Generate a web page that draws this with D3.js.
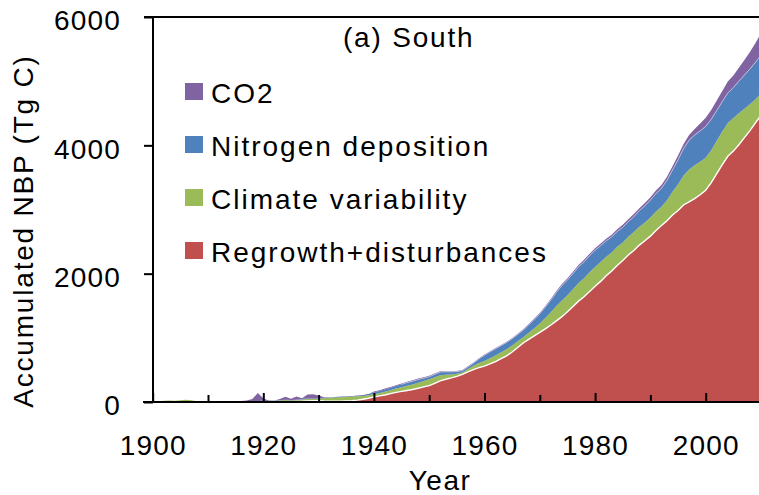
<!DOCTYPE html>
<html>
<head>
<meta charset="utf-8">
<script src="https://cdn.jsdelivr.net/npm/d3@7"></script>
<style>
  body { margin: 0; background: #fff; }
  svg text { font-family: "Liberation Sans", Arial, sans-serif; font-size: 28px; fill: #000; }
</style>
</head>
<body>
<svg id="chart" width="759" height="495"></svg>
<script>
// Accumulated net biome production (Tg C) by driver, South region, 1900-2010
const firstYear = 1900;

const regrowth = [
  0, 0, 0, 0, 0, 0, 0, 0, 0, 0,
  0, 0, 0, 0, 0, 0, 0, 0, 0, 0,
  0, 0, 0, 0, 2, 5, 8, 12, 18, 22,
  20, 15, 12, 12, 14, 18, 22, 30, 42, 58,
  80, 95, 110, 130, 150, 165, 180, 195, 215, 235,
  255, 290, 330, 355, 375, 400, 430, 470, 505, 535,
  560, 595, 630, 675, 720, 780, 850, 920, 975, 1030,
  1085, 1140, 1200, 1265, 1330, 1405, 1488, 1572, 1640, 1722,
  1805, 1880, 1968, 2040, 2128, 2205, 2290, 2360, 2445, 2512,
  2585, 2672, 2750, 2825, 2915, 2985, 3070, 3120, 3170, 3230,
  3300, 3420, 3560, 3700, 3830, 3910, 4010, 4120, 4230, 4350,
  4470
];

const climate = [
  0, 8, 18, 22, 18, 28, 34, 26, 10, 2,
  0, 0, 0, 0, 2, 0, 3, 5, 8, 12,
  15, 20, 18, 22, 28, 20, 22, 28, 27, 23,
  30, 45, 53, 58, 61, 62, 63, 60, 53, 47,
  40, 45, 50, 55, 60, 65, 72, 78, 85, 92,
  98, 95, 88, 70, 55, 40, 30, 45, 60, 72,
  80, 88, 96, 100, 104, 100, 95, 90, 105, 120,
  140, 170, 200, 230, 250, 258, 270, 284, 290, 300,
  300, 302, 295, 288, 290, 282, 285, 288, 286, 284,
  290, 296, 293, 320, 360, 410, 460, 505, 520, 515,
  505, 505, 510, 515, 518, 515, 490, 450, 410, 370,
  339
];

const nitrogen = [
  0, 0, 0, 0, 0, 0, 0, 0, 0, 0,
  0, 0, 0, 0, 0, 0, 2, 2, 3, 3,
  3, 4, 4, 5, 6, 5, 6, 7, 8, 8,
  6, 5, 5, 6, 6, 7, 8, 9, 12, 20,
  30, 30, 35, 38, 40, 45, 50, 52, 50, 45,
  42, 45, 50, 45, 40, 35, 28, 32, 40, 65,
  90, 98, 104, 104, 104, 106, 108, 110, 122, 135,
  150, 170, 190, 212, 234, 240, 245, 250, 255, 258,
  260, 255, 250, 245, 240, 236, 234, 240, 250, 262,
  272, 280, 287, 310, 340, 380, 420, 455, 470, 480,
  490, 480, 472, 468, 468, 475, 500, 525, 550, 575,
  596
];

const co2 = [
  0, 0, 0, 0, 0, 0, 0, 0, 0, 0,
  0, 0, 5, 8, 8, 10, 10, 18, 34, 125,
  42, -4, 3, 18, 44, 20, 48, 13, 62, 67,
  46, 8, 3, -2, -5, -6, -3, 2, -8, -6,
  15, 15, 15, 12, 12, 15, 15, 15, 15, 15,
  15, 15, 12, 10, 10, 10, 10, 10, 10, 10,
  10, 10, 10, 10, 12, 12, 12, 12, 14, 15,
  16, 18, 20, 22, 25, 26, 27, 28, 30, 31,
  32, 32, 33, 34, 35, 38, 40, 40, 40, 42,
  44, 47, 50, 55, 60, 65, 72, 80, 95, 115,
  135, 145, 155, 165, 178, 190, 210, 235, 265, 300,
  340
];

const seriesKeys = ["regrowth", "climate", "nitrogen", "co2"];
const seriesNames = ["Regrowth+disturbances", "Climate variability", "Nitrogen deposition", "CO2"];
const seriesColors = ["#C0504D", "#9BBB59", "#4F81BD", "#8064A2"];

const yTicks = [0, 2000, 4000, 6000];
const xMajorTicks = [1900, 1920, 1940, 1960, 1980, 2000];
const xMinorTicks = [1910, 1930, 1950, 1970, 1990];

const panelTitle = "(a) South";
const xTitle = "Year";
const yTitle = "Accumulated NBP (Tg C)";

// rows for the stack layout
const rows = regrowth.map((v, i) => ({
  year: firstYear + i,
  regrowth: v,
  climate: climate[i],
  nitrogen: nitrogen[i],
  co2: co2[i]
}));

const svg = d3.select("#chart");
const W = 759;

const x = d3.scaleLinear().domain([1900, 2010]).range([152.7, 761]);
const y = d3.scaleLinear().domain([0, 6000]).range([402, 17]);

const stacked = d3.stack().keys(seriesKeys).offset(d3.stackOffsetNone)(rows);

const area = d3.area()
  .x(d => x(d.data.year))
  .y0(d => y(d[0]))
  .y1(d => y(d[1]));

const topLine = d3.line().x(d => x(d.data.year)).y(d => y(d[1]));
const seamLine = d3.line()
  .defined(d => d.data.year >= 1945)
  .x(d => x(d.data.year)).y(d => y(d[0]));

svg.append("defs").append("clipPath").attr("id", "plotClip")
  .append("rect").attr("x", 153).attr("y", 17).attr("width", W - 153).attr("height", 385);

const plot = svg.append("g").attr("clip-path", "url(#plotClip)");

plot.selectAll("path.layer")
  .data(stacked)
  .join("path")
  .attr("class", "layer")
  .attr("fill", (d, i) => seriesColors[i])
  .attr("d", area);

// white edge along the top of the regrowth layer
plot.append("path")
  .attr("d", topLine(stacked[0]))
  .attr("fill", "none")
  .attr("stroke", "#ffffff")
  .attr("stroke-width", 1.4);

// light seam between the nitrogen and CO2 layers
plot.append("path")
  .attr("d", seamLine(stacked[3]))
  .attr("fill", "none")
  .attr("stroke", "#cfc4e2")
  .attr("stroke-width", 0.8);

// axes
const axisG = svg.append("g").attr("stroke", "#000").attr("stroke-width", 2);
axisG.append("line").attr("x1", 153).attr("x2", 153).attr("y1", y(6000) - 1).attr("y2", y(0) + 1);
axisG.append("line").attr("x1", 143).attr("x2", W).attr("y1", y(0)).attr("y2", y(0));
axisG.append("line").attr("x1", 144).attr("x2", W).attr("y1", y(6000)).attr("y2", y(6000));

const yAxis = d3.axisLeft(y).tickValues(yTicks).tickSize(9).tickPadding(23).tickFormat(d3.format("d"));
const gy = svg.append("g").attr("transform", "translate(153,0)").call(yAxis);
gy.select(".domain").remove();
gy.selectAll(".tick line").attr("stroke", "#000").attr("stroke-width", 2);
gy.selectAll(".tick text")
  .attr("dy", "0.46em")
  .attr("font-size", 28)
  .attr("font-family", "Liberation Sans, Arial, sans-serif")
  .style("letter-spacing", "1.2px");

const xAxisMajor = d3.axisBottom(x).tickValues(xMajorTicks).tickSize(-9).tickPadding(33).tickFormat(d3.format("d"));
const gx = svg.append("g").attr("transform", `translate(0,${y(0)})`).call(xAxisMajor);
gx.select(".domain").remove();
gx.selectAll(".tick line").attr("stroke", "#000").attr("stroke-width", 2);
gx.selectAll(".tick text")
  .attr("font-size", 28)
  .attr("font-family", "Liberation Sans, Arial, sans-serif")
  .style("letter-spacing", "1.2px");

const xAxisMinor = d3.axisBottom(x).tickValues(xMinorTicks).tickSize(-7).tickFormat("");
const gxm = svg.append("g").attr("transform", `translate(0,${y(0)})`).call(xAxisMinor);
gxm.select(".domain").remove();
gxm.selectAll(".tick line").attr("stroke", "#000").attr("stroke-width", 2);

// titles
svg.append("text")
  .attr("x", 440).attr("y", 490)
  .attr("text-anchor", "middle")
  .style("letter-spacing", "1.5px")
  .text(xTitle);

svg.append("text")
  .attr("transform", "translate(33,231) rotate(-90)")
  .attr("text-anchor", "middle")
  .style("letter-spacing", "1.8px")
  .text(yTitle);

svg.append("text")
  .attr("x", 343).attr("y", 47)
  .style("letter-spacing", "1.8px")
  .text(panelTitle);

// legend, top entry first
const legendOrder = [3, 2, 1, 0];
const legend = svg.append("g");
legendOrder.forEach((si, row) => {
  const base = 103 + row * 53;
  legend.append("rect")
    .attr("x", 185).attr("y", base - 20)
    .attr("width", 18).attr("height", 17)
    .attr("fill", seriesColors[si]);
  legend.append("text")
    .attr("x", 211).attr("y", base)
    .style("letter-spacing", "2px")
    .text(seriesNames[si]);
});
</script>
</body>
</html>
